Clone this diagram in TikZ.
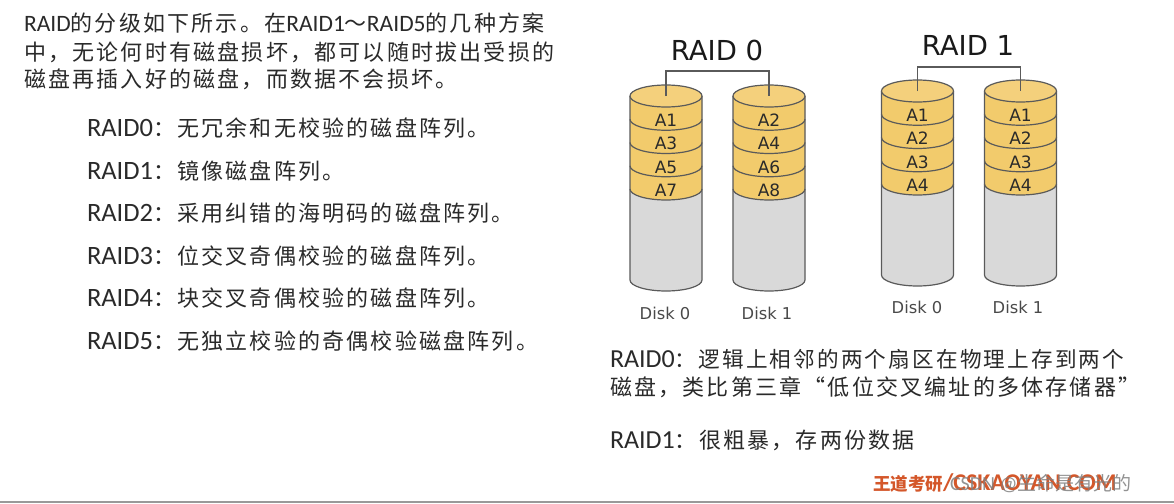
\documentclass[tikz,border=0pt]{standalone}
\usepackage{fontspec}
\setmainfont{Carlito}
\newfontfamily\cjk[LetterSpace=10]{Noto Sans CJK SC}
\newfontfamily\cjkw{Noto Sans CJK SC}
\newfontfamily\dv{DejaVu Sans}
\definecolor{txtc}{HTML}{2A2A2A}
\definecolor{diskc}{HTML}{5A5A5A}
\definecolor{diskyel}{HTML}{F2CB6C}
\definecolor{diskyeltop}{HTML}{F4D07C}
\definecolor{diskgray}{HTML}{D9D9D9}
\definecolor{wdorange}{HTML}{D4572A}
\newcommand\zh[1]{{\cjk\fontsize{22}{26}\selectfont #1}}
\newcommand\la[2]{{\fontsize{#1}{26}\selectfont #2}}
\newcommand\mydisk[7]{%
\begin{scope}[shift={(#2,-#3)}]
\coordinate (#1) at (0,0);
\fill[diskgray] (-36,0) -- (-36,-184) arc[start angle=180,end angle=360,x radius=36,y radius=11] -- (36,0) -- cycle;
\fill[diskyel] (-36,0) -- (-36,-93) arc[start angle=180,end angle=360,x radius=36,y radius=11] -- (36,0) -- cycle;
\foreach \k in {1,2,3,4} \draw[diskline] (-36,-23.25*\k) arc[start angle=180,end angle=360,x radius=36,y radius=11];
\draw[diskline] (-36,0) -- (-36,-184) arc[start angle=180,end angle=360,x radius=36,y radius=11] -- (36,0);
\filldraw[fill=diskyeltop, diskline] (0,0) ellipse[x radius=36, y radius=11];
\node[alab] (#1-a) at (0,-24) {#4};
\node[alab] (#1-b) at (0,-47.5) {#5};
\node[alab] (#1-c) at (0,-71) {#6};
\node[alab] (#1-d) at (0,-94.5) {#7};
\end{scope}}
\begin{document}
\begin{tikzpicture}[x=1pt,y=1pt,
  txt/.style={inner sep=0pt, outer sep=0pt, anchor=base west, text=txtc},
  diskline/.style={draw=diskc, line width=1.2pt},
  alab/.style={inner sep=0pt, text=txtc, font=\dv\fontsize{17}{17}\selectfont},
  dlab/.style={inner sep=0pt, text=txtc!85, font=\dv\fontsize{16.3}{17}\selectfont},
  title/.style={inner sep=0pt, text=black!90, font=\dv\fontsize{27.5}{28}\selectfont},
  bracket/.style={draw=diskc, line width=1.2pt}]
\useasboundingbox (0,0) rectangle (1174,-503);
\fill[white] (0,0) rectangle (1174,-503);

% left paragraph
\node[txt] (p1) at (24,-32) {\la{23.5}{RAID}\zh{的分级如下所示。在}\la{23.5}{RAID1}\zh{～}\la{23.5}{RAID5}\zh{的几种方案}};
\node[txt] (p2) at (24,-60) {\zh{中，无论何时有磁盘损坏，都可以随时拔出受损的}};
\node[txt] (p3) at (24,-87) {\zh{磁盘再插入好的磁盘，而数据不会损坏。}};

% list
\node[txt] (l0) at (87,-136.5) {\la{26.5}{RAID0}\zh{：无冗余和无校验的磁盘阵列。}};
\node[txt] (l1) at (87,-179) {\la{26.5}{RAID1}\zh{：镜像磁盘阵列。}};
\node[txt] (l2) at (87,-221.5) {\la{26.5}{RAID2}\zh{：采用纠错的海明码的磁盘阵列。}};
\node[txt] (l3) at (87,-264) {\la{26.5}{RAID3}\zh{：位交叉奇偶校验的磁盘阵列。}};
\node[txt] (l4) at (87,-306.5) {\la{26.5}{RAID4}\zh{：块交叉奇偶校验的磁盘阵列。}};
\node[txt] (l5) at (87,-349) {\la{26.5}{RAID5}\zh{：无独立校验的奇偶校验磁盘阵列。}};

% RAID 0
\node[title] (t0) at (717,-50) {RAID 0};
\mydisk{r0a}{666}{96}{A1}{A3}{A5}{A7}
\mydisk{r0b}{769}{96}{A2}{A4}{A6}{A8}
\draw[bracket] (r0a) -- ++(0,25) -| (r0b);
\node[dlab] (r0al) at (665,-313) {Disk 0};
\node[dlab] (r0bl) at (767,-313) {Disk 1};

% RAID 1
\node[title] (t1) at (968,-45.5) {RAID 1};
\mydisk{r1a}{917.5}{91}{A1}{A2}{A3}{A4}
\mydisk{r1b}{1020.5}{91}{A1}{A2}{A3}{A4}
\draw[bracket] (r1a) -- ++(0,24) -| (r1b);
\node[dlab] (r1al) at (917,-307) {Disk 0};
\node[dlab] (r1bl) at (1018,-307) {Disk 1};

% bottom right text
\node[txt] (b1) at (610,-367.5) {\la{26}{RAID0}{\cjk\fontsize{21.6}{26}\selectfont ：逻辑上相邻的两个扇区在物理上存到两个}};
\node[txt] (b2) at (610,-395.5) {\zh{磁盘，类比第三章“低位交叉编址的多体存储器”}};
\node[txt] (b3) at (610,-448.5) {\la{26}{RAID1}\zh{：很粗暴，存两份数据}};

% footer
\node[txt, text=wdorange] (w1) at (873,-490) {{\cjkw\bfseries\fontsize{17.5}{20}\selectfont 王道考研}{\bfseries\fontsize{24}{20}\selectfont /CSKAOYAN.COM}};
\node[txt, text=black!50, opacity=0.85] (w2) at (950,-490) {{\fontsize{20}{20}\selectfont CSDN @}{\cjkw\fontsize{19}{20}\selectfont 生命是有光的}};
\draw[black!40, line width=2pt] (0,-502) -- (1174,-502);
\end{tikzpicture}
\end{document}
